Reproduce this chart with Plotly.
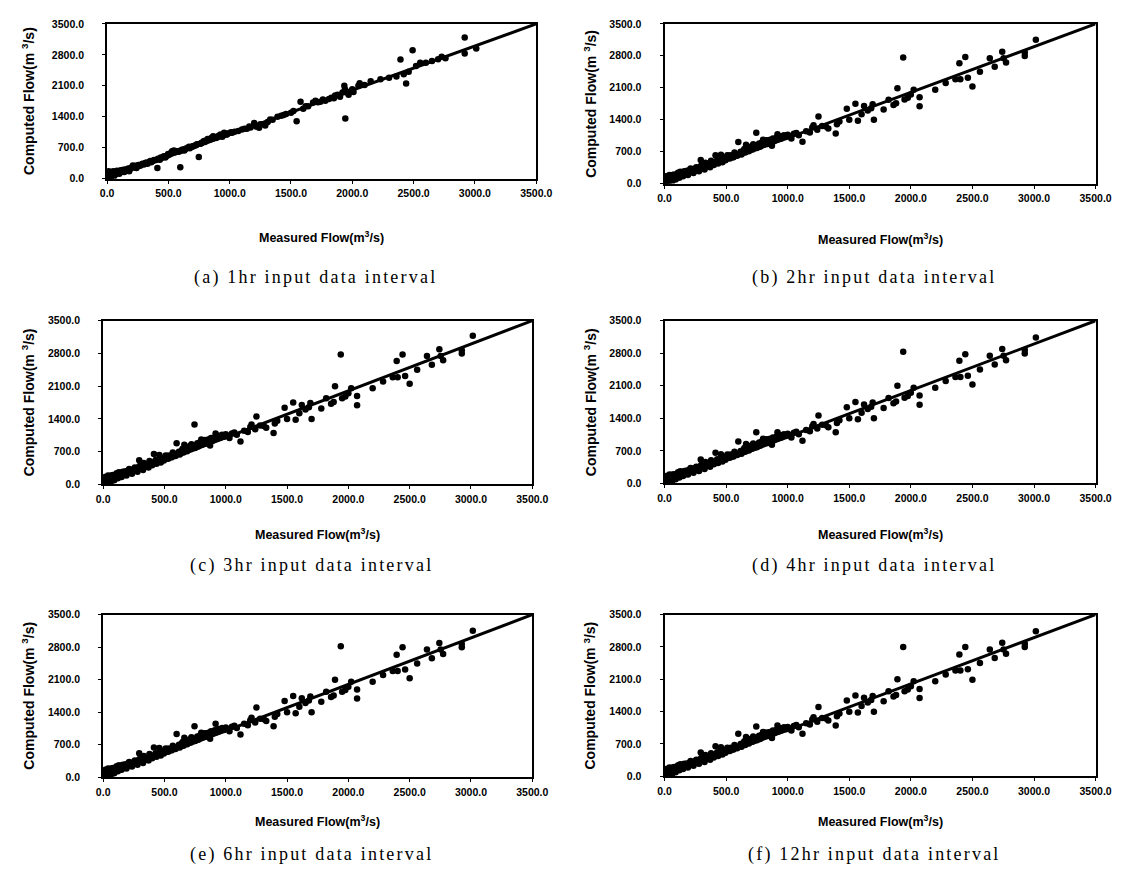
import plotly.graph_objects as go

# ---------------- data ----------------
axis_max = 3500.0
x_ticks = [0, 500, 1000, 1500, 2000, 2500, 3000, 3500]
y_ticks = [0, 700, 1400, 2100, 2800, 3500]
captions = ["(a) 1hr input data interval", "(b) 2hr input data interval",
            "(c) 3hr input data interval", "(d) 4hr input data interval",
            "(e) 6hr input data interval", "(f) 12hr input data interval"]

measured_1hr = [3, 5, 8, 10, 12, 15, 20, 25, 30, 35,
                40, 50, 55, 60, 70, 80, 90, 100, 110, 125,
                140, 150, 165, 180, 195, 210, 225, 240, 255, 270,
                285, 300, 315, 330, 345, 360, 375, 410, 400, 415,
                430, 445, 460, 475, 490, 505, 520, 530, 545, 555,
                570, 585, 597, 600, 615, 630, 645, 660, 675, 690,
                705, 720, 735, 748, 760, 775, 790, 805, 820, 835,
                850, 865, 880, 895, 910, 925, 940, 955, 970, 990,
                1010, 1040, 1070, 1100, 1140, 1170, 1200, 1215, 1240, 1270,
                1290, 1310, 1350, 1390, 1420, 1460, 1500, 1546, 1578, 1600,
                1640, 1680, 1700, 1740, 1780, 1810, 1850, 1880, 1900, 1935,
                1943, 1940, 1955, 1970, 1990, 2010, 2050, 2060, 2150, 2230,
                2300, 2360, 2393, 2420, 2439, 2460, 2492, 2520, 2554, 2600,
                2650, 2700, 2729, 2760, 2917, 2917, 3011,
                18, 45, 65, 85, 118, 132, 158, 172, 188, 218,
                232, 262, 292, 322, 352, 382, 438, 468, 498, 512,
                538, 562, 608, 638, 668, 698, 728, 768, 798, 828,
                858, 888, 918, 948, 978, 1020, 1120, 1160, 1250, 1330,
                1440, 1520, 1620, 1720, 1760, 1830, 1860, 1920, 2000, 2100]
computed_1hr = [15, 90, 140, 40, 170, 110, 60, 150, 20, 120,
                80, 170, 50, 130, 100, 180, 140, 110, 190, 160,
                150, 210, 190, 170, 250, 300, 260, 240, 310, 290,
                330, 320, 360, 340, 380, 370, 400, 240, 420, 450,
                430, 470, 500, 480, 520, 540, 580, 620, 640, 600,
                620, 610, 260, 640, 660, 640, 680, 700, 690, 720,
                740, 750, 780, 490, 790, 820, 850, 860, 900, 880,
                920, 960, 940, 930, 970, 1000, 950, 1040, 1000, 1030,
                1050, 1060, 1080, 1110, 1130, 1160, 1260, 1180, 1150, 1230,
                1200, 1280, 1330, 1400, 1420, 1460, 1490, 1300, 1740, 1580,
                1640, 1720, 1760, 1740, 1760, 1800, 1820, 1900, 1850, 2100,
                1360, 2020, 1950, 1900, 1980, 1960, 2100, 2160, 2200, 2250,
                2280, 2310, 2695, 2360, 2150, 2420, 2906, 2550, 2619, 2620,
                2660, 2700, 2755, 2720, 3191, 2829, 2942,
                120, 150, 90, 140, 170, 200, 180, 230, 220, 270,
                290, 300, 340, 360, 400, 420, 480, 510, 560, 560,
                600, 620, 640, 670, 720, 730, 770, 800, 830, 870,
                900, 920, 960, 980, 1000, 1040, 1130, 1180, 1230, 1340,
                1440, 1530, 1640, 1730, 1790, 1830, 1880, 1950, 2020, 2120]

measured = [3, 5, 8, 10, 12, 15, 20, 25, 30, 35,
            40, 45, 55, 60, 70, 80, 90, 100, 110, 120,
            135, 150, 160, 175, 190, 205, 220, 235, 250, 265,
            280, 290, 294, 310, 325, 340, 355, 370, 385, 400,
            414, 420, 435, 450, 458, 470, 480, 495, 510, 519,
            530, 545, 560, 575, 590, 599, 610, 625, 640, 655,
            662, 670, 685, 700, 715, 720, 730, 745, 750, 760,
            775, 790, 800, 805, 820, 835, 850, 865, 872, 880,
            895, 917, 910, 925, 940, 955, 970, 985, 1000, 1015,
            1030, 1050, 1070, 1090, 1120, 1150, 1180, 1200, 1210, 1240,
            1250, 1280, 1310, 1330, 1390, 1400, 1420, 1480, 1500, 1550,
            1570, 1600, 1620, 1650, 1678, 1700, 1690, 1779, 1819, 1859,
            1880, 1891, 1938, 1949, 1975, 2000, 2023, 2071, 2071, 2198,
            2283, 2362, 2402, 2394, 2442, 2463, 2500, 2561, 2641, 2681,
            2742, 2753, 2773, 2925, 2925, 3015,
            18, 28, 50, 65, 85, 95, 105, 115, 128, 142,
            155, 168, 182, 198, 212, 228, 242, 258, 272, 300,
            318, 332, 348, 362, 378, 392, 428, 442, 465, 488,
            502, 538, 552, 568, 582, 618, 632, 648, 676, 692,
            708, 738, 768, 782, 812, 828, 842, 858, 888, 902,
            932, 948, 962]
computed_2hr = [20, 80, 130, 40, 160, 100, 60, 140, 30, 110,
                190, 70, 150, 40, 120, 200, 90, 170, 240, 130,
                210, 160, 270, 230, 190, 300, 260, 230, 330, 290,
                270, 370, 515, 340, 310, 430, 380, 360, 460, 410,
                623, 480, 440, 510, 630, 470, 560, 510, 620, 609,
                550, 600, 580, 640, 610, 913, 650, 640, 720, 680,
                850, 740, 710, 800, 750, 860, 820, 1116, 780, 840,
                810, 900, 960, 850, 920, 870, 950, 910, 830, 990,
                950, 1080, 1010, 970, 1040, 1000, 1060, 1020, 1070, 1040,
                990, 1090, 1110, 1060, 920, 1150, 1120, 1230, 1280, 1180,
                1470, 1260, 1250, 1210, 1100, 1300, 1360, 1640, 1400, 1750,
                1380, 1520, 1700, 1600, 1650, 1400, 1740, 1623, 1840, 1725,
                1760, 2087, 2761, 1841, 1880, 1950, 2058, 1891, 1695, 2058,
                2202, 2289, 2289, 2637, 2776, 2318, 2130, 2450, 2747, 2559,
                2891, 2747, 2652, 2797, 2870, 3152,
                150, 70, 110, 190, 150, 120, 210, 160, 260, 180,
                230, 200, 280, 240, 330, 300, 280, 360, 320, 400,
                380, 460, 410, 420, 500, 450, 520, 490, 550, 530,
                580, 620, 580, 680, 640, 700, 680, 760, 760, 750,
                820, 780, 880, 830, 870, 950, 900, 960, 930, 980,
                1000, 990, 1020]
computed_3hr = [20, 80, 130, 40, 160, 100, 60, 140, 30, 110,
                190, 70, 150, 40, 120, 200, 90, 170, 240, 130,
                210, 160, 270, 230, 190, 300, 260, 230, 330, 290,
                270, 370, 515, 340, 310, 430, 380, 360, 460, 410,
                650, 480, 440, 510, 630, 470, 560, 510, 620, 609,
                550, 600, 580, 640, 610, 880, 650, 640, 720, 680,
                850, 740, 710, 800, 750, 860, 820, 1280, 780, 840,
                810, 900, 960, 850, 920, 870, 950, 910, 830, 990,
                950, 1090, 1010, 970, 1040, 1000, 1060, 1020, 1070, 1040,
                990, 1090, 1110, 1060, 920, 1150, 1120, 1230, 1280, 1180,
                1450, 1260, 1250, 1210, 1100, 1300, 1360, 1640, 1400, 1750,
                1380, 1520, 1700, 1600, 1650, 1400, 1740, 1623, 1840, 1725,
                1760, 2100, 2780, 1841, 1880, 1950, 2058, 1891, 1695, 2058,
                2202, 2289, 2289, 2637, 2780, 2318, 2150, 2450, 2747, 2559,
                2891, 2747, 2652, 2797, 2870, 3180,
                150, 70, 110, 190, 150, 120, 210, 160, 260, 180,
                230, 200, 280, 240, 330, 300, 280, 360, 320, 400,
                380, 460, 410, 420, 500, 450, 520, 490, 550, 530,
                580, 620, 580, 680, 640, 700, 680, 760, 760, 750,
                820, 780, 880, 830, 870, 950, 900, 960, 930, 980,
                1000, 990, 1020]
computed_4hr = [20, 80, 130, 40, 160, 100, 60, 140, 30, 110,
                190, 70, 150, 40, 120, 200, 90, 170, 240, 130,
                210, 160, 270, 230, 190, 300, 260, 230, 330, 290,
                270, 370, 515, 340, 310, 430, 380, 360, 460, 410,
                660, 480, 440, 510, 630, 470, 560, 510, 620, 609,
                550, 600, 580, 640, 610, 900, 650, 640, 720, 680,
                850, 740, 710, 800, 750, 860, 820, 1100, 780, 840,
                810, 900, 960, 850, 920, 870, 950, 910, 830, 990,
                950, 1100, 1010, 970, 1040, 1000, 1060, 1020, 1070, 1040,
                990, 1090, 1110, 1060, 920, 1150, 1120, 1230, 1280, 1180,
                1460, 1260, 1250, 1210, 1100, 1300, 1360, 1640, 1400, 1750,
                1380, 1520, 1700, 1600, 1650, 1400, 1740, 1623, 1840, 1725,
                1760, 2100, 2830, 1841, 1880, 1950, 2058, 1891, 1695, 2058,
                2202, 2289, 2289, 2637, 2776, 2318, 2130, 2450, 2747, 2559,
                2891, 2747, 2652, 2797, 2870, 3140,
                150, 70, 110, 190, 150, 120, 210, 160, 260, 180,
                230, 200, 280, 240, 330, 300, 280, 360, 320, 400,
                380, 460, 410, 420, 500, 450, 520, 490, 550, 530,
                580, 620, 580, 680, 640, 700, 680, 760, 760, 750,
                820, 780, 880, 830, 870, 950, 900, 960, 930, 980,
                1000, 990, 1020]
computed_6hr = [20, 80, 130, 40, 160, 100, 60, 140, 30, 110,
                190, 70, 150, 40, 120, 200, 90, 170, 240, 130,
                210, 160, 270, 230, 190, 300, 260, 230, 330, 290,
                270, 370, 515, 340, 310, 430, 380, 360, 460, 410,
                640, 480, 440, 510, 630, 470, 560, 510, 620, 609,
                550, 600, 580, 640, 610, 930, 650, 640, 720, 680,
                850, 740, 710, 800, 750, 860, 820, 1100, 780, 840,
                810, 900, 960, 850, 920, 870, 950, 910, 830, 990,
                950, 1150, 1010, 970, 1040, 1000, 1060, 1020, 1070, 1040,
                990, 1090, 1110, 1060, 920, 1150, 1120, 1230, 1280, 1180,
                1500, 1260, 1250, 1210, 1100, 1300, 1360, 1640, 1400, 1750,
                1380, 1520, 1700, 1600, 1650, 1400, 1740, 1623, 1840, 1725,
                1760, 2100, 2820, 1841, 1880, 1950, 2058, 1891, 1695, 2058,
                2202, 2289, 2289, 2637, 2800, 2318, 2130, 2450, 2747, 2559,
                2891, 2747, 2652, 2797, 2870, 3150,
                150, 70, 110, 190, 150, 120, 210, 160, 260, 180,
                230, 200, 280, 240, 330, 300, 280, 360, 320, 400,
                380, 460, 410, 420, 500, 450, 520, 490, 550, 530,
                580, 620, 580, 680, 640, 700, 680, 760, 760, 750,
                820, 780, 880, 830, 870, 950, 900, 960, 930, 980,
                1000, 990, 1020]
computed_12hr = [20, 80, 130, 40, 160, 100, 60, 140, 30, 110,
                 190, 70, 150, 40, 120, 200, 90, 170, 240, 130,
                 210, 160, 270, 230, 190, 300, 260, 230, 330, 290,
                 270, 370, 515, 340, 310, 430, 380, 360, 460, 410,
                 650, 480, 440, 510, 630, 470, 560, 510, 620, 609,
                 550, 600, 580, 640, 610, 920, 650, 640, 720, 680,
                 850, 740, 710, 800, 750, 860, 820, 1080, 780, 840,
                 810, 900, 960, 850, 920, 870, 950, 910, 830, 990,
                 950, 1100, 1010, 970, 1040, 1000, 1060, 1020, 1070, 1040,
                 990, 1090, 1110, 1060, 920, 1150, 1120, 1230, 1280, 1180,
                 1500, 1260, 1250, 1210, 1100, 1300, 1360, 1640, 1400, 1750,
                 1380, 1520, 1700, 1600, 1650, 1400, 1740, 1623, 1840, 1725,
                 1760, 2100, 2800, 1841, 1880, 1950, 2058, 1891, 1695, 2058,
                 2202, 2289, 2289, 2637, 2800, 2318, 2090, 2450, 2747, 2559,
                 2891, 2747, 2652, 2797, 2870, 3140,
                 150, 70, 110, 190, 150, 120, 210, 160, 260, 180,
                 230, 200, 280, 240, 330, 300, 280, 360, 320, 400,
                 380, 460, 410, 420, 500, 450, 520, 490, 550, 530,
                 580, 620, 580, 680, 640, 700, 680, 760, 760, 750,
                 820, 780, 880, 830, 870, 950, 900, 960, 930, 980,
                 1000, 990, 1020]

series = [(measured_1hr, computed_1hr), (measured, computed_2hr),
          (measured, computed_3hr), (measured, computed_4hr),
          (measured, computed_6hr), (measured, computed_12hr)]

# ---------------- layout (pixel boxes of each plot area) ----------------
W, H = 1132, 869
boxes = [(94, 532, 10, 167), (663, 1103, 10, 172),
         (90, 528, 311, 477), (663, 1103, 311, 476),
         (90, 528, 609, 774), (663, 1103, 609, 773)]
ytitle_x = [14, 587, 13, 587, 13, 587]
xtitle_y = [226, 228, 527, 527, 818, 818]
caption_y = [267, 267, 559, 559, 852, 852]

def px(x):
    return x / W

def py(y):
    return 1 - y / H

fig = go.Figure()
tick_font = dict(family="Liberation Sans, Arial", size=10.5, color="black", weight="bold")
annotations = []
for i, ((mx, cy), (x0, x1, y0, y1)) in enumerate(zip(series, boxes)):
    n = "" if i == 0 else str(i + 1)
    xa, ya = "x" + n, "y" + n
    fig.add_trace(go.Scatter(x=mx, y=cy, mode="markers", xaxis=xa, yaxis=ya,
                             marker=dict(color="black", size=6.5, line=dict(width=0)),
                             showlegend=False, hoverinfo="skip"))
    fig.add_trace(go.Scatter(x=[0, axis_max], y=[0, axis_max], mode="lines",
                             xaxis=xa, yaxis=ya, line=dict(color="black", width=3),
                             showlegend=False, hoverinfo="skip"))
    common = dict(range=[0, axis_max], showline=True, mirror=True, linecolor="black",
                  linewidth=2, showgrid=False, zeroline=False, ticks="outside",
                  ticklen=3, tickwidth=1, tickcolor="black", tickformat=".1f",
                  tickfont=tick_font)
    fig.update_layout(**{
        "xaxis" + n: dict(common, domain=[px(x0), px(x1)], anchor=ya,
                          tickvals=x_ticks, ticklabelstandoff=1),
        "yaxis" + n: dict(common, domain=[py(y1), py(y0)], anchor=xa,
                          tickvals=y_ticks, ticklabelstandoff=16),
    })
    cx = (x0 + x1) / 2
    annotations.append(dict(x=px(ytitle_x[i]), y=py((y0 + y1) / 2), xref="paper", yref="paper",
                            text="Computed Flow(m <sup>3</sup>/s)", textangle=-90,
                            showarrow=False, xanchor="center", yanchor="middle",
                            font=dict(family="Liberation Sans, Arial", size=14, color="black", weight="bold")))
    annotations.append(dict(x=px(cx), y=py(xtitle_y[i]), xref="paper", yref="paper",
                            text="Measured Flow(m<sup>3</sup>/s)",
                            showarrow=False, xanchor="center", yanchor="middle",
                            font=dict(family="Liberation Sans, Arial", size=12.5, color="black", weight="bold")))
    annotations.append(dict(x=px(cx - 6), y=py(caption_y[i]), xref="paper", yref="paper",
                            text='<span style="letter-spacing:2.2px">' + captions[i] + '</span>',
                            showarrow=False, xanchor="center", yanchor="middle",
                            font=dict(family="Liberation Serif, serif", size=18, color="black")))

fig.update_layout(width=W, height=H, margin=dict(l=0, r=0, t=0, b=0),
                  paper_bgcolor="white", plot_bgcolor="white",
                  annotations=annotations)
fig.write_html("out.html")
